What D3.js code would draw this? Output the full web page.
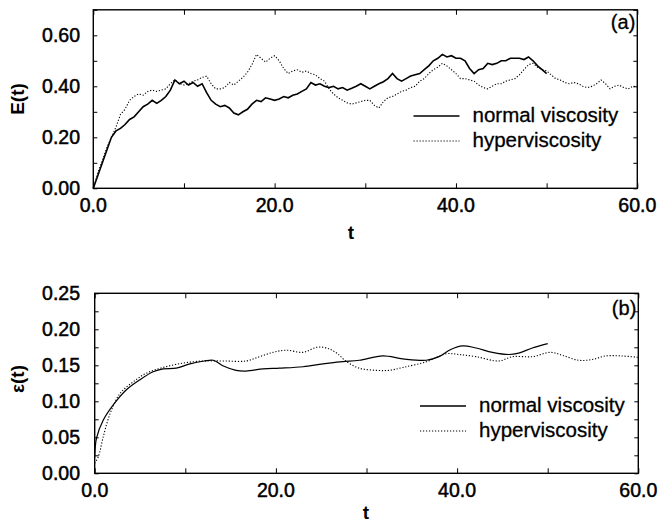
<!DOCTYPE html>
<html>
<head>
<meta charset="utf-8">
<script src="https://cdn.jsdelivr.net/npm/d3@7"></script>
<style>
	body { margin: 0; background: #fff; }
	svg { display: block; font-family: 'Liberation Sans', Arial, sans-serif; }
</style>
</head>
<body>
<svg id="chart" width="659" height="522"></svg>
<script>
'use strict';

// panel (a): E(t), sampled every 0.5 in t
var stepA = 0.5;
var normalA = [
	0.0, 0.05, 0.10, 0.15, 0.20, 0.225, 0.235, 0.25, 0.27, 0.28,
	0.30, 0.32, 0.33, 0.345, 0.333, 0.345, 0.36, 0.385, 0.425, 0.41,
	0.42, 0.405, 0.415, 0.40, 0.41, 0.375, 0.345, 0.33, 0.32, 0.325,
	0.315, 0.295, 0.288, 0.30, 0.31, 0.33, 0.345, 0.34, 0.355, 0.35,
	0.345, 0.35, 0.36, 0.355, 0.365, 0.37, 0.38, 0.39, 0.415, 0.405,
	0.41, 0.40, 0.395, 0.40, 0.39, 0.395, 0.385, 0.392, 0.40, 0.41,
	0.40, 0.39, 0.40, 0.41, 0.418, 0.43, 0.45, 0.43, 0.42, 0.43,
	0.44, 0.445, 0.45, 0.465, 0.48, 0.50, 0.51, 0.525, 0.515, 0.52,
	0.51, 0.51, 0.50, 0.47, 0.45, 0.465, 0.47, 0.49, 0.485, 0.49,
	0.50, 0.50, 0.51, 0.51, 0.51, 0.505, 0.515, 0.50, 0.48, 0.465,
	0.45
];
var hyperA = [
	0.0, 0.06, 0.11, 0.16, 0.20, 0.24, 0.29, 0.31, 0.345, 0.36,
	0.37, 0.365, 0.38, 0.385, 0.38, 0.385, 0.39, 0.41, 0.425, 0.41,
	0.405, 0.41, 0.42, 0.425, 0.435, 0.44, 0.41, 0.39, 0.39, 0.395,
	0.415, 0.405, 0.42, 0.435, 0.455, 0.485, 0.525, 0.51, 0.495, 0.51,
	0.52, 0.50, 0.47, 0.45, 0.46, 0.465, 0.455, 0.46, 0.45, 0.445,
	0.43, 0.42, 0.39, 0.37, 0.355, 0.345, 0.335, 0.33, 0.335, 0.34,
	0.345, 0.345, 0.325, 0.315, 0.34, 0.355, 0.36, 0.37, 0.38, 0.385,
	0.395, 0.40, 0.42, 0.43, 0.45, 0.465, 0.475, 0.49, 0.48, 0.465,
	0.45, 0.43, 0.43, 0.425, 0.42, 0.405, 0.395, 0.39, 0.40, 0.41,
	0.41, 0.42, 0.425, 0.43, 0.445, 0.465, 0.485, 0.49, 0.475, 0.465,
	0.46, 0.445, 0.43, 0.425, 0.415, 0.41, 0.415, 0.41, 0.40, 0.395,
	0.40, 0.41, 0.425, 0.41, 0.39, 0.40, 0.405, 0.395, 0.39, 0.40,
	0.398
];

// panel (b): epsilon(t), read at uneven times
var normalBt = [0, 0.2, 0.95, 2.05, 3.5, 5.0, 6.45, 7.55, 9.0, 10.5, 12.1, 13.1, 14.2, 15.6, 16.7, 18.6, 20.4,
	23.0, 25.2, 27.4, 29.2, 31.8, 34.0, 36.6, 38.0, 39.3, 40.6, 42.1, 43.9, 45.7, 46.8, 48.3, 50.0];
var normalBv = [0.022, 0.049, 0.074, 0.095, 0.116, 0.130, 0.141, 0.145, 0.146, 0.152, 0.156, 0.157, 0.149, 0.143, 0.142, 0.145, 0.146,
	0.148, 0.152, 0.155, 0.157, 0.163, 0.159, 0.157, 0.162, 0.172, 0.177, 0.174, 0.168, 0.165, 0.167, 0.174, 0.180];
var hyperBt = [0, 0.4, 0.95, 1.7, 2.8, 4.25, 5.7, 7.55, 9.75, 11.95, 14.2, 16.7, 18.2, 19.7, 21.1, 23.0, 24.5, 25.6, 26.7,
	27.8, 29.2, 31.1, 32.5, 34.0, 36.6, 38.8, 40.2, 42.1, 44.6, 46.1, 48.3, 50.3, 51.6, 53.4, 54.9, 56.4, 58.2, 60.0];
var hyperBv = [0.014, 0.023, 0.051, 0.083, 0.111, 0.127, 0.139, 0.147, 0.153, 0.156, 0.156, 0.156, 0.162, 0.168, 0.171, 0.168, 0.175, 0.174, 0.167,
	0.155, 0.146, 0.143, 0.143, 0.147, 0.155, 0.166, 0.165, 0.162, 0.156, 0.162, 0.162, 0.168, 0.164, 0.157, 0.158, 0.163, 0.163, 0.161];

var xTicks = [0, 20, 40, 60];
var yTicksA = [0, 0.2, 0.4, 0.6];
var yTicksB = [0, 0.05, 0.10, 0.15, 0.20, 0.25];
var seriesNames = ['normal viscosity', 'hyperviscosity'];

(function() {
	var svg = d3.select('#chart');
	var fmt1 = d3.format('.1f'), fmt2 = d3.format('.2f');
	var dotted = '1.2,1.8';

	// scanned look: a hair of stroke thickens the glyphs
	function heavy(sel, w) {
		return sel.attr('fill', '#000').attr('stroke', '#000').attr('stroke-width', w);
	}

	function panel(cfg) {
		var x = d3.scaleLinear().domain([0, 60]).range([cfg.left, cfg.right]);
		var y = d3.scaleLinear().domain([0, cfg.yMax]).range([cfg.bottom, cfg.top]);
		var g = svg.append('g');

		// inward ticks on all four sides
		var ax = [
			d3.axisBottom(x).tickValues(d3.range(0, 61, 10)).tickSize(-5).tickFormat(''),
			d3.axisTop(x).tickValues(d3.range(0, 61, 10)).tickSize(-5).tickFormat(''),
			d3.axisLeft(y).tickValues(cfg.minor).tickSize(-4).tickFormat(''),
			d3.axisRight(y).tickValues(cfg.minor).tickSize(-4).tickFormat('')
		];
		var pos = ['translate(0,' + cfg.bottom + ')', 'translate(0,' + cfg.top + ')',
			'translate(' + cfg.left + ',0)', 'translate(' + cfg.right + ',0)'];
		ax.forEach(function(a, i) {
			var s = g.append('g').attr('transform', pos[i]).call(a);
			s.select('.domain').remove();
			s.selectAll('line').attr('stroke', '#000').attr('stroke-width', 1);
		});

		g.append('rect')
			.attr('x', cfg.left).attr('y', cfg.top)
			.attr('width', cfg.right - cfg.left).attr('height', cfg.bottom - cfg.top)
			.attr('fill', 'none').attr('stroke', '#000').attr('stroke-width', 1.4);

		heavy(g.selectAll('.xl').data(xTicks).enter().append('text')
			.attr('x', function(d) { return x(d); })
			.attr('y', cfg.bottom + 24)
			.attr('text-anchor', 'middle').attr('font-size', 19.5)
			.text(function(d) { return fmt1(d); }), 0.5);
		heavy(g.selectAll('.yl').data(cfg.yTicks).enter().append('text')
			.attr('x', 80)
			.attr('y', function(d) { return y(d) + 7; })
			.attr('text-anchor', 'end').attr('font-size', 19.5)
			.text(function(d) { return fmt2(d); }), 0.5);

		g.append('text')
			.attr('transform', 'translate(' + 24 + ',' + cfg.yLabelY + ') rotate(-90)')
			.attr('text-anchor', 'middle').attr('font-size', 19).attr('font-weight', 'bold')
			.text(cfg.yLabel);
		g.append('text')
			.attr('x', cfg.tX).attr('y', cfg.tY)
			.attr('text-anchor', 'middle').attr('font-size', 19).attr('font-weight', 'bold')
			.text('t');
		heavy(g.append('text')
			.attr('x', cfg.right - 2).attr('y', cfg.top + cfg.tagDy)
			.attr('text-anchor', 'end').attr('font-size', 20)
			.text(cfg.tag), 0.3);

		var line = d3.line()
			.x(function(d) { return x(d[0]); })
			.y(function(d) { return y(d[1]); })
			.curve(cfg.curve);
		g.append('path').datum(cfg.hyper)
			.attr('d', line).attr('fill', 'none')
			.attr('stroke', '#000').attr('stroke-width', 1.1)
			.attr('stroke-dasharray', dotted);
		g.append('path').datum(cfg.normal)
			.attr('d', line).attr('fill', 'none')
			.attr('stroke', '#000').attr('stroke-width', cfg.solidWidth);

		// legend
		var lg = g.append('g').attr('transform', 'translate(' + cfg.legX + ',' + cfg.legY + ')');
		seriesNames.forEach(function(name, i) {
			lg.append('line')
				.attr('x1', 0).attr('x2', 46)
				.attr('y1', i * 25).attr('y2', i * 25)
				.attr('stroke', '#000').attr('stroke-width', i ? 1.1 : 1.4)
				.attr('stroke-dasharray', i ? dotted : null);
			heavy(lg.append('text')
				.attr('x', 59).attr('y', i * 25 + 6)
				.attr('font-size', 20.5)
				.text(name), 0.3);
		});
	}

	function evenPairs(vals) {
		return vals.map(function(v, i) { return [i * stepA, v]; });
	}
	function pairs(ts, vs) {
		return ts.map(function(t, i) { return [t, vs[i]]; });
	}

	panel({
		left: 93.3, right: 637.3, top: 9.8, bottom: 188.3, yMax: 0.7,
		minor: d3.range(0, 0.71, 0.1), yTicks: yTicksA,
		yLabel: 'E(t)', yLabelY: 99, tX: 351, tY: 239,
		tag: '(a)', tagDy: 19,
		normal: evenPairs(normalA), hyper: evenPairs(hyperA),
		curve: d3.curveLinear, solidWidth: 1.6,
		legX: 413.5, legY: 116
	});
	panel({
		left: 94.7, right: 638.3, top: 293.3, bottom: 473.3, yMax: 0.25,
		minor: d3.range(0, 0.251, 0.025), yTicks: yTicksB,
		yLabel: 'ε(t)', yLabelY: 379, tX: 366, tY: 519,
		tag: '(b)', tagDy: 22,
		normal: pairs(normalBt, normalBv), hyper: pairs(hyperBt, hyperBv),
		curve: d3.curveCatmullRom, solidWidth: 1.2,
		legX: 420, legY: 406
	});
})();
</script>
</body>
</html>
